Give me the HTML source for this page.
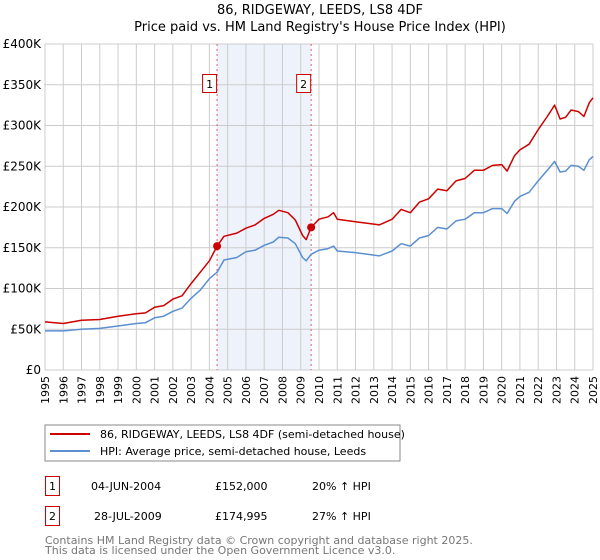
<!DOCTYPE html>
<html><head><meta charset="utf-8"><style>
body{margin:0;background:#fff;}
svg{display:block;font-family:"DejaVu Sans","Liberation Sans",sans-serif;}
</style></head><body>
<svg id="chart" width="600" height="560" viewBox="0 0 600 560">
<text x="320" y="14" text-anchor="middle" font-size="13">86, RIDGEWAY, LEEDS, LS8 4DF</text>
<text x="320" y="31" text-anchor="middle" font-size="13">Price paid vs. HM Land Registry's House Price Index (HPI)</text>
<g id="grid"></g><g id="marks"></g><g id="axes"></g>
<rect x="45" y="425" width="355" height="36" fill="#fff" stroke="#888"/>
<line x1="50" y1="434" x2="90" y2="434" stroke="#cc0000" stroke-width="2"/>
<text x="100" y="438" font-size="11">86, RIDGEWAY, LEEDS, LS8 4DF (semi-detached house)</text>
<line x1="50" y1="451" x2="90" y2="451" stroke="#5b8fd0" stroke-width="2"/>
<text x="100" y="455" font-size="11">HPI: Average price, semi-detached house, Leeds</text>
<g font-size="11">
<rect x="45.5" y="476.5" width="14" height="19" fill="#fff" stroke="#cc0000"/>
<text x="52.5" y="490" text-anchor="middle">1</text>
<text x="91" y="490">04-JUN-2004</text>
<text x="215" y="490">£152,000</text>
<text x="312" y="490">20% ↑ HPI</text>
<rect x="45.5" y="506.5" width="14" height="19" fill="#fff" stroke="#cc0000"/>
<text x="52.5" y="520" text-anchor="middle">2</text>
<text x="94" y="520">28-JUL-2009</text>
<text x="215" y="520">£174,995</text>
<text x="312" y="520">27% ↑ HPI</text>
</g>
<text x="45" y="544" font-size="11" fill="#777">Contains HM Land Registry data © Crown copyright and database right 2025.</text>
<text x="45" y="554" font-size="11" fill="#777">This data is licensed under the Open Government Licence v3.0.</text>
</svg>
<script>
const years=[1995,1996,1997,1998,1999,2000,2000.5,2001,2001.5,2002,2002.5,2003,2003.5,2004,2004.42,2004.8,2005.5,2006,2006.5,2007,2007.5,2007.8,2008.3,2008.7,2009.1,2009.3,2009.57,2010,2010.5,2010.8,2011,2012,2013,2013.3,2014,2014.5,2015,2015.5,2016,2016.5,2017,2017.5,2018,2018.5,2019,2019.5,2020,2020.3,2020.7,2021,2021.5,2022,2022.5,2022.9,2023.2,2023.5,2023.8,2024.2,2024.5,2024.8,2025];
const hpiValues=[48,48,50,51,54,57,58,64,66,72,76,88,98,112,120,135,138,145,147,153,157,163,162,155,138,134,142,147,149,152,146,144,141,140,146,155,152,162,165,175,173,183,185,193,193,198,198,192,207,213,218,232,245,256,243,244,251,250,245,258,262];
const propertyValues=[59,57,61,62,66,69,70,77,79,87,91,106,120,134,152,164,168,174,178,186,191,196,193,184,165,160,175,185,188,193,185,182,179,178,185,197,193,206,210,222,220,232,235,245,245,251,252,244,263,270,277,295,311,325,308,310,319,317,311,328,334];
const saleYears=[2004.42,2009.57];
const salePrices=[152,174.995];
const saleLabels=["1","2"];
const yTicks=[0,50,100,150,200,250,300,350,400];
const yTickLabels=["£0","£50K","£100K","£150K","£200K","£250K","£300K","£350K","£400K"];
const xTicks=[1995,1996,1997,1998,1999,2000,2001,2002,2003,2004,2005,2006,2007,2008,2009,2010,2011,2012,2013,2014,2015,2016,2017,2018,2019,2020,2021,2022,2023,2024,2025];

const NS="http://www.w3.org/2000/svg";
const X0=45,X1=593,Y0=370,Y1=44;
function xs(y){return X0+(y-1995)/30*(X1-X0);}
function ys(v){return Y0-v/400*(Y0-Y1);}
function mk(tag,attrs,parent){const e=document.createElementNS(NS,tag);for(const k in attrs)e.setAttribute(k,attrs[k]);parent.appendChild(e);return e;}
const grid=document.getElementById('grid'),marks=document.getElementById('marks'),axes=document.getElementById('axes');

let r=mk('rect',{x:xs(saleYears[0]),y:Y1,width:xs(saleYears[1])-xs(saleYears[0]),height:Y0-Y1,fill:'#eef2fb'},grid);


yTicks.forEach((t,i)=>{
  let l=mk('line',{x1:X0,x2:X1,y1:ys(t),y2:ys(t),stroke:'#ccc'},grid);
  
  
  let tx=mk('text',{x:X0-4,y:ys(t)+4,'text-anchor':'end','font-size':12},axes);
  tx.textContent=yTickLabels[i];
  
  
});
xTicks.forEach(t=>{
  let l=mk('line',{x1:xs(t),x2:xs(t),y1:Y1,y2:Y0,stroke:'#ccc'},grid);
  
  
  let tx=mk('text',{transform:`translate(${xs(t)+4},376) rotate(-90)`,'text-anchor':'end','font-size':11},axes);
  tx.textContent=String(t);
  
  
});
saleYears.forEach((sy,i)=>{
  let l=mk('line',{x1:xs(sy),x2:xs(sy),y1:Y1,y2:Y0,stroke:'#e06060','stroke-dasharray':'2,3'},marks);
  
  
});
function path(vals,color,name){
  let d=years.map((y,i)=>(i?'L':'M')+xs(y).toFixed(1)+','+ys(vals[i]).toFixed(1)).join('');
  let p=mk('path',{d:d,fill:'none',stroke:color,'stroke-width':1.5,'stroke-linejoin':'round'},marks);
  
  
}
path(hpiValues,'#5b8fd0','hpi-line');
path(propertyValues,'#cc0000','property-price-line');
saleYears.forEach((sy,i)=>{
  let c=mk('circle',{cx:xs(sy),cy:ys(salePrices[i]),r:4,fill:'#cc0000'},marks);
  
  
  let b=mk('rect',{x:xs(sy)-14.5,y:74.5,width:14,height:18,fill:'#fff',stroke:'#cc0000'},marks);
  
  
  let t=mk('text',{x:xs(sy)-7.5,y:88,'text-anchor':'middle','font-size':11},marks);
  t.textContent=saleLabels[i];
  
  
});
</script>
</body></html>
